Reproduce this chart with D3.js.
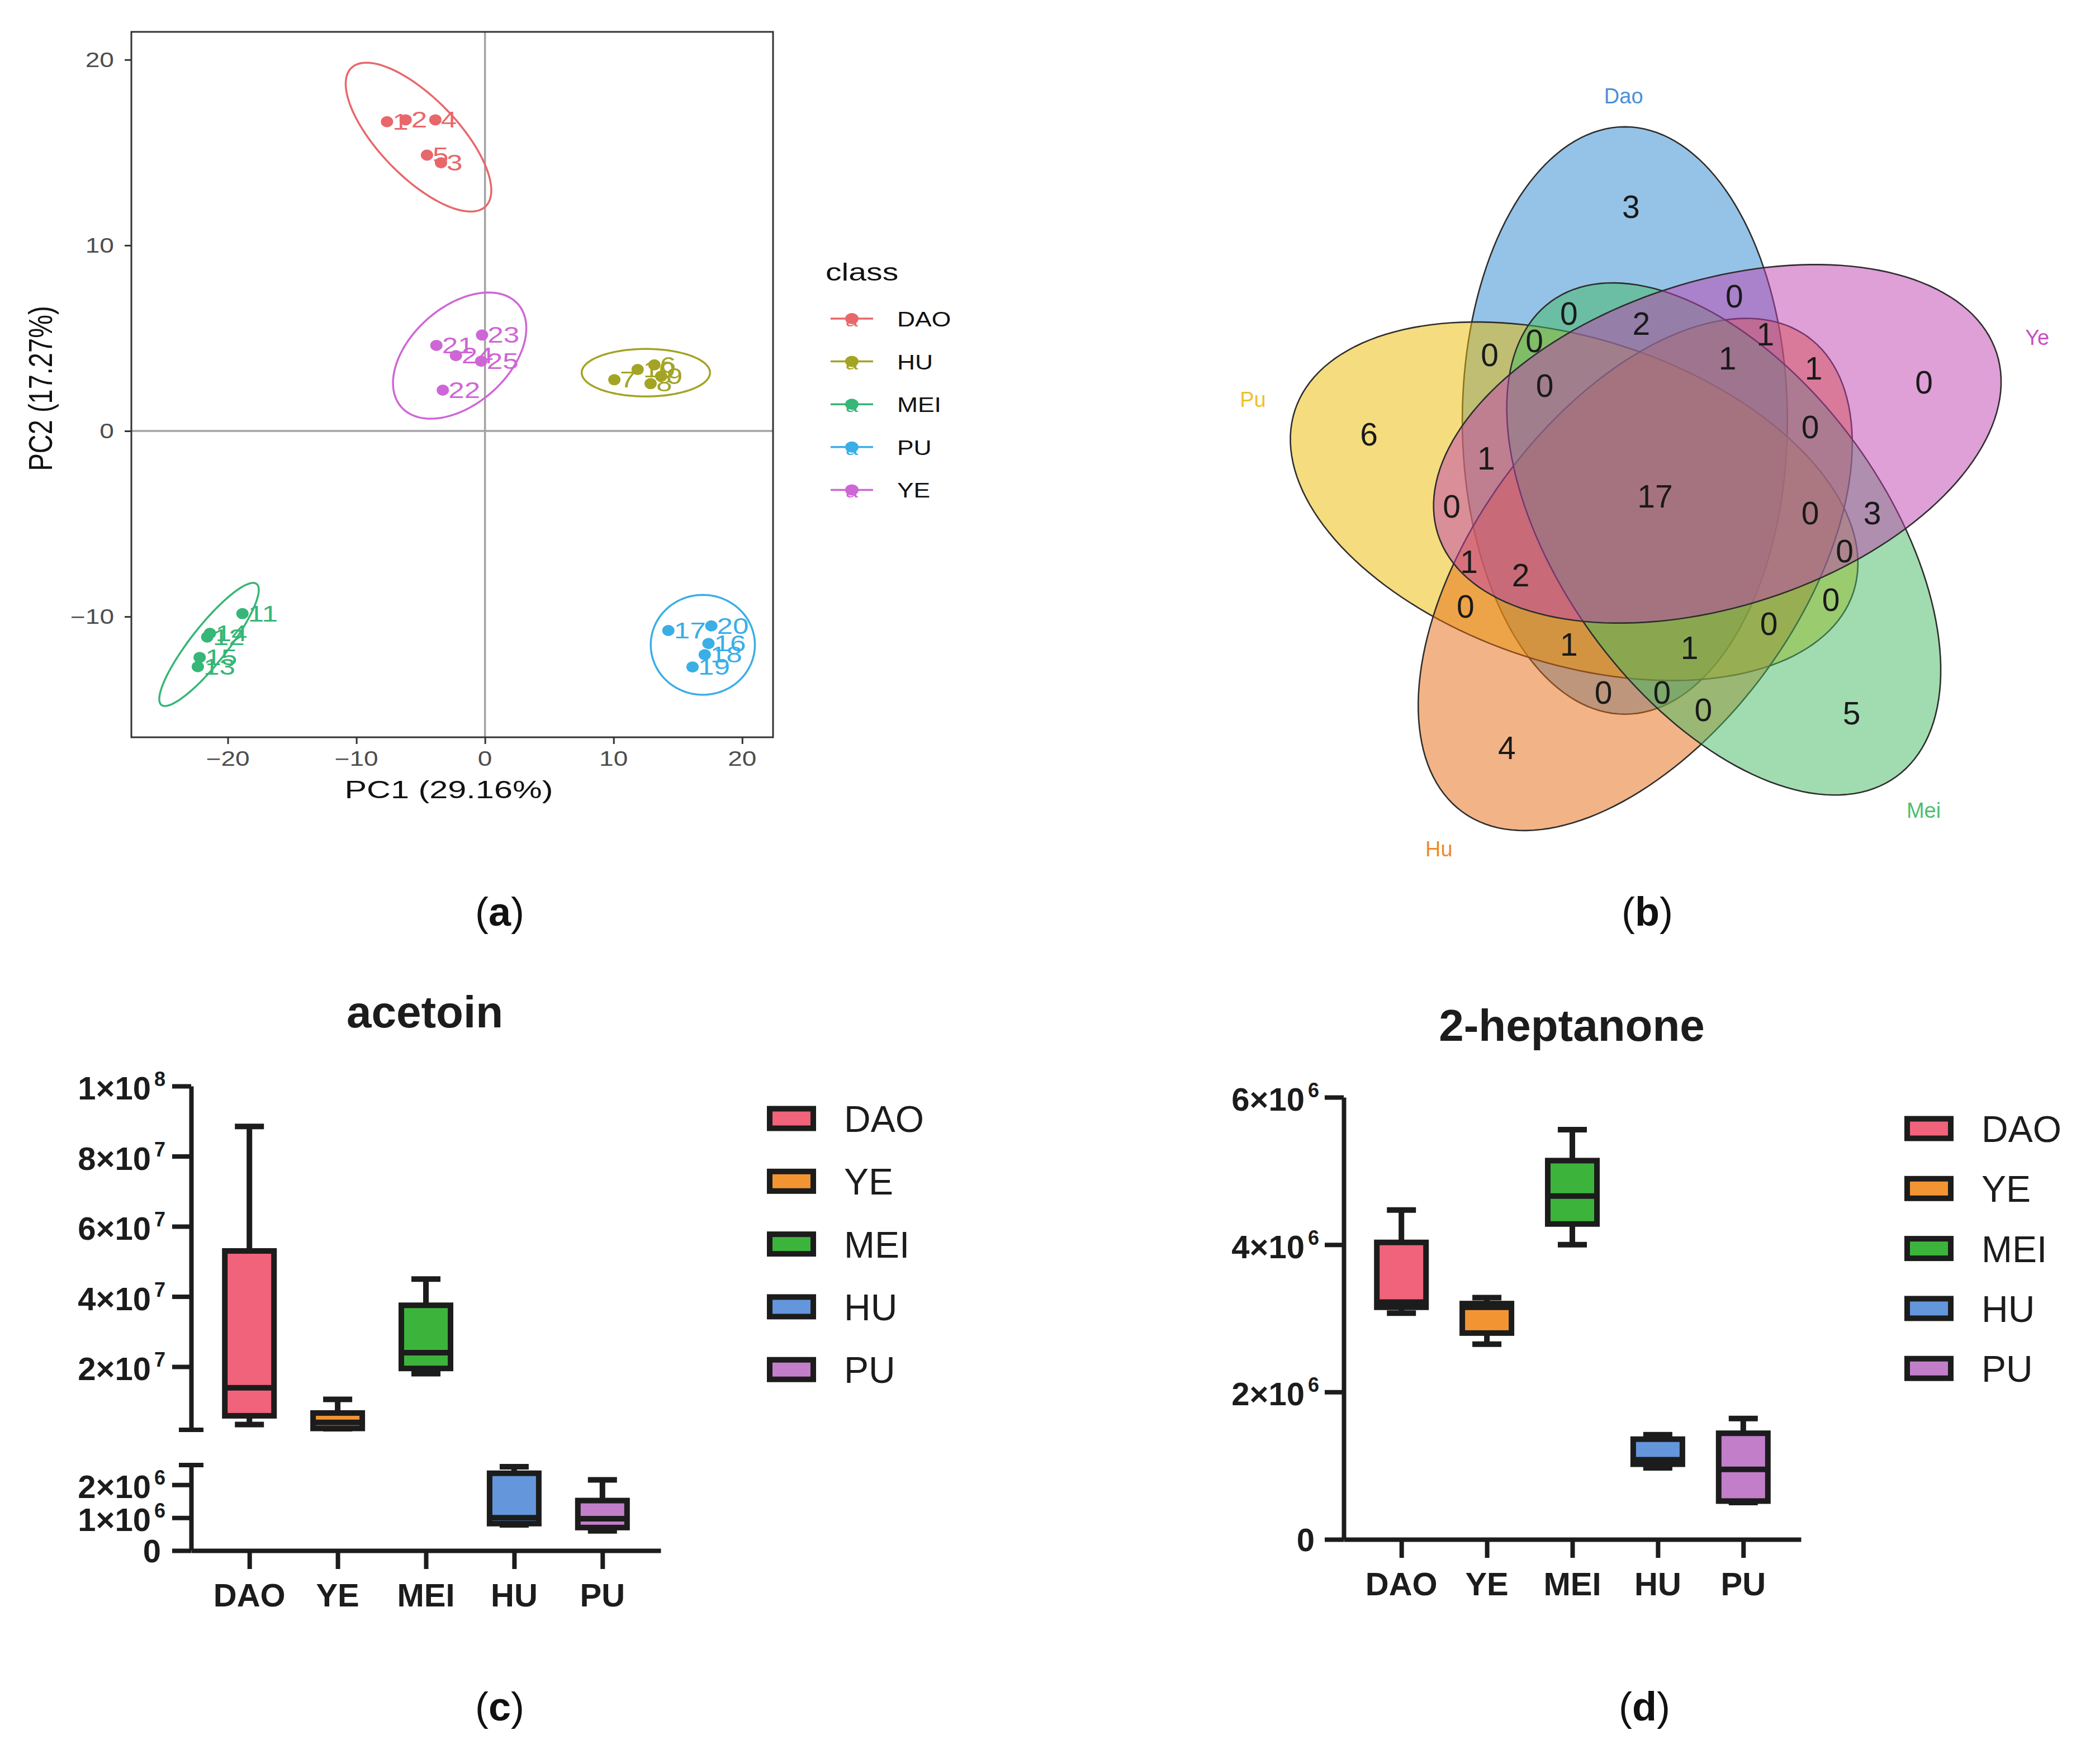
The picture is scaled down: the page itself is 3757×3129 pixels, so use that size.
<!DOCTYPE html>
<html>
<head>
<meta charset="utf-8">
<script src="https://cdn.jsdelivr.net/npm/d3@7/dist/d3.min.js"></script>
<style>
  body { margin: 0; background: #fff; }
  svg { display: block; }
  text { font-family: "Liberation Sans", Arial, sans-serif; }
</style>
</head>
<body>
<div id="figure"></div>
<script>
// ---------- data ----------

// (a) PCA scores
var pcaClasses = ["DAO", "HU", "MEI", "PU", "YE"];
var sampleIds = [1, 2, 3, 4, 5, 6, 7, 8, 9, 10, 11, 12, 13, 14, 15, 16, 17, 18, 19, 20, 21, 22, 23, 24, 25];
var sampleClass = ["DAO", "DAO", "DAO", "DAO", "DAO", "HU", "HU", "HU", "HU", "HU",
  "MEI", "MEI", "MEI", "MEI", "MEI", "PU", "PU", "PU", "PU", "PU", "YE", "YE", "YE", "YE", "YE"];
var pc1Scores = [-7.62, -6.17, -3.42, -3.86, -4.51, 13.17, 10.06, 12.88, 13.70, 11.87,
  -18.86, -21.60, -22.33, -21.39, -22.19, 17.38, 14.26, 17.09, 16.14, 17.60, -3.78, -3.28, -0.23, -2.26, -0.30];
var pc2Scores = [16.66, 16.76, 14.45, 16.76, 14.86, 3.56, 2.76, 2.55, 2.95, 3.31,
  -9.84, -11.10, -12.70, -10.90, -12.20, -11.45, -10.75, -12.05, -12.71, -10.50, 4.61, 2.20, 5.17, 4.06, 3.76];
// confidence ellipse per class: centre and two conjugate half-axes (PC units)
var ellCx = [-5.17, 12.51, -21.46, 16.94, -1.97];
var ellCy = [15.83, 3.14, -11.50, -11.52, 4.06];
var ellUx = [5.22, 4.99, 3.70, 4.05, 4.54];
var ellUy = [-3.73, 0, 3.26, 0, 2.77];
var ellVx = [2.19, 0, 1.13, 0, 2.50];
var ellVy = [1.47, 1.28, -0.61, 2.69, -1.97];
var pcXTicks = [-20, -10, 0, 10, 20];
var pcYTicks = [-10, 0, 10, 20];

// (b) Venn diagram
var vennSets = ["Dao", "Ye", "Mei", "Hu", "Pu"];
var vennRegions = ["Dao", "Ye", "Mei", "Hu", "Pu",
  "Dao,Ye", "Dao,Mei", "Dao,Hu", "Dao,Pu", "Ye,Mei", "Ye,Hu", "Ye,Pu", "Mei,Hu", "Mei,Pu", "Hu,Pu",
  "Dao,Ye,Mei", "Dao,Ye,Hu", "Dao,Ye,Pu", "Dao,Mei,Hu", "Dao,Mei,Pu", "Dao,Hu,Pu",
  "Ye,Mei,Hu", "Ye,Mei,Pu", "Ye,Hu,Pu", "Mei,Hu,Pu",
  "Dao,Ye,Mei,Hu", "Dao,Ye,Mei,Pu", "Dao,Ye,Hu,Pu", "Dao,Mei,Hu,Pu", "Ye,Mei,Hu,Pu",
  "Dao,Ye,Mei,Hu,Pu"];
var vennCounts = [3, 0, 5, 4, 6,
  0, 0, 0, 0, 3, 1, 0, 0, 0, 0,
  2, 1, 1, 0, 0, 1,
  0, 0, 1, 0,
  1, 0, 2, 1, 0,
  17];

// (c), (d) box plots
var boxCats = ["DAO", "YE", "MEI", "HU", "PU"];
var acetoinMin = [3.5e6, 2.3e6, 1.8e7, 7.8e5, 6.0e5];
var acetoinQ1  = [6.0e6, 2.4e6, 1.95e7, 8.2e5, 7.0e5];
var acetoinMed = [1.4e7, 4.1e6, 2.4e7, 1.0e6, 9.7e5];
var acetoinQ3  = [5.3e7, 6.8e6, 3.75e7, 2.35e6, 1.52e6];
var acetoinMax = [8.85e7, 1.07e7, 4.5e7, 2.55e6, 2.15e6];
var acetoinUpperTicks = [2e7, 4e7, 6e7, 8e7, 1e8];
var acetoinLowerTicks = [0, 1e6, 2e6];

var heptMin = [3.07e6, 2.65e6, 4.0e6, 9.7e5, 5.0e5];
var heptQ1  = [3.15e6, 2.8e6, 4.28e6, 1.02e6, 5.2e5];
var heptMed = [3.22e6, 3.15e6, 4.66e6, 1.08e6, 9.5e5];
var heptQ3  = [4.03e6, 3.2e6, 5.14e6, 1.36e6, 1.44e6];
var heptMax = [4.47e6, 3.28e6, 5.56e6, 1.42e6, 1.64e6];
var heptTicks = [0, 2e6, 4e6, 6e6];

// ---------- styles ----------
var pcaColors = ["#e8676a", "#a3a424", "#36b677", "#3aaee6", "#cf66d6"];
var vennFill = ["#2b88d0", "#c040b0", "#41b95f", "#e56a10", "#ebb900"];
var vennLabelColor = ["#4a90d9", "#c94fc0", "#4cbf6a", "#ef8a2a", "#efc02a"];
var boxColors = ["#f0637b", "#f39433", "#3cb43c", "#6496dc", "#c27ec9"];
var ink = "#1c1c1c";

var W = 3757, H = 3129;
var svg = d3.select("#figure").append("svg").attr("width", W).attr("height", H);
svg.append("rect").attr("width", W).attr("height", H).attr("fill", "#fff");

// text stretched horizontally (panel a was scaled wider than tall)
function wideText(g, x, y, str, size, anchor, fill, sx) {
  return g.append("text")
    .attr("transform", "translate(" + x + "," + y + ") scale(" + sx + ",1)")
    .attr("text-anchor", anchor)
    .attr("font-size", size)
    .attr("fill", fill)
    .text(str);
}
function minusFmt(v) { return v < 0 ? "\u2212" + Math.abs(v) : String(v); }

// ================= (a) PCA =================
var pa = { left: 235, right: 1383, top: 57, bottom: 1319 };
var xPC = d3.scaleLinear().domain([-27.5, 22.4]).range([pa.left, pa.right]);
var yPC = d3.scaleLinear().domain([-16.5, 21.5]).range([pa.bottom, pa.top]);
var gA = svg.append("g");

gA.append("line").attr("x1", xPC(0)).attr("x2", xPC(0)).attr("y1", pa.top).attr("y2", pa.bottom)
  .attr("stroke", "#a3a3a3").attr("stroke-width", 3.5);
gA.append("line").attr("x1", pa.left).attr("x2", pa.right).attr("y1", yPC(0)).attr("y2", yPC(0))
  .attr("stroke", "#a3a3a3").attr("stroke-width", 3.5);

// axes (tick marks from d3, labels drawn stretched)
var axBot = gA.append("g").attr("transform", "translate(0," + pa.bottom + ")")
  .call(d3.axisBottom(xPC).tickValues(pcXTicks).tickSize(12).tickFormat(""));
var axLeft = gA.append("g").attr("transform", "translate(" + pa.left + ",0)")
  .call(d3.axisLeft(yPC).tickValues(pcYTicks).tickSize(12).tickFormat(""));
[axBot, axLeft].forEach(function(ax) {
  ax.select(".domain").remove();
  ax.selectAll("line").attr("stroke", "#333").attr("stroke-width", 3);
});
pcXTicks.forEach(function(v) {
  wideText(gA, xPC(v), pa.bottom + 51, minusFmt(v), 36, "middle", "#4d4d4d", 1.28);
});
pcYTicks.forEach(function(v) {
  wideText(gA, pa.left - 31, yPC(v) + 13, minusFmt(v), 36, "end", "#4d4d4d", 1.28);
});

gA.append("rect").attr("x", pa.left).attr("y", pa.top)
  .attr("width", pa.right - pa.left).attr("height", pa.bottom - pa.top)
  .attr("fill", "none").attr("stroke", "#333").attr("stroke-width", 3);

wideText(gA, (pa.left + pa.right) / 2 - 6, 1428, "PC1 (29.16%)", 45, "middle", "#111", 1.32);
gA.append("text")
  .attr("transform", "translate(93,695) scale(1.25,1) rotate(-90)")
  .attr("text-anchor", "middle").attr("font-size", 47).attr("fill", "#111")
  .text("PC2 (17.27%)");

// ellipses
var ellLine = d3.line().curve(d3.curveLinearClosed);
pcaClasses.forEach(function(cls, k) {
  var pts = d3.range(120).map(function(i) {
    var t = 2 * Math.PI * i / 120;
    var px = ellCx[k] + ellUx[k] * Math.cos(t) + ellVx[k] * Math.sin(t);
    var py = ellCy[k] + ellUy[k] * Math.cos(t) + ellVy[k] * Math.sin(t);
    return [xPC(px), yPC(py)];
  });
  gA.append("path").attr("d", ellLine(pts)).attr("fill", "none")
    .attr("stroke", pcaColors[k]).attr("stroke-width", 3.5);
});

// points and labels
var colorOf = d3.scaleOrdinal().domain(pcaClasses).range(pcaColors);
gA.selectAll("ellipse.pt").data(sampleIds).enter().append("ellipse")
  .attr("class", "pt")
  .attr("cx", function(d, i) { return xPC(pc1Scores[i]); })
  .attr("cy", function(d, i) { return yPC(pc2Scores[i]); })
  .attr("rx", 11).attr("ry", 10)
  .attr("fill", function(d, i) { return colorOf(sampleClass[i]); });
sampleIds.forEach(function(id, i) {
  wideText(gA, xPC(pc1Scores[i]) + 10, yPC(pc2Scores[i]) + 14, String(id), 40, "start",
    colorOf(sampleClass[i]), 1.28);
});

// legend
wideText(gA, 1477, 502, "class", 44, "start", "#111", 1.3);
pcaClasses.forEach(function(cls, k) {
  var cy = 570 + k * 76.6;
  gA.append("line").attr("x1", 1486).attr("x2", 1562).attr("y1", cy).attr("y2", cy)
    .attr("stroke", pcaColors[k]).attr("stroke-width", 3.5);
  gA.append("ellipse").attr("cx", 1524).attr("cy", cy).attr("rx", 12).attr("ry", 10).attr("fill", pcaColors[k]);
  wideText(gA, 1524, cy + 14, "a", 32, "middle", pcaColors[k], 1.25);
  wideText(gA, 1605, cy + 14, cls, 37, "start", "#111", 1.2);
});

// ================= (b) Venn =================
var gB = svg.append("g");
var vCx = 2961, vCy = 887, vR = 740;
var vx = d3.scaleLinear().domain([-1, 1]).range([vCx - vR, vCx + vR]);
var vy = d3.scaleLinear().domain([-1, 1]).range([vCy + vR, vCy - vR]);
var vA = 0.71, vB = 0.393, vOx = -0.073, vOy = 0.182;

function ellPoint(k, t) {
  var lx = vOx + vB * Math.cos(t), ly = vOy + vA * Math.sin(t);
  var th = -72 * k * Math.PI / 180, c = Math.cos(th), s = Math.sin(th);
  return [c * lx - s * ly, s * lx + c * ly];
}
function inEll(k, px, py) {
  var th = 72 * k * Math.PI / 180, c = Math.cos(th), s = Math.sin(th);
  var qx = c * px - s * py, qy = s * px + c * py;
  var dx = (qx - vOx) / vB, dy = (qy - vOy) / vA;
  return dx * dx + dy * dy < 1;
}

var drawOrder = ["Dao", "Pu", "Hu", "Mei", "Ye"];
drawOrder.forEach(function(name) {
  var k = vennSets.indexOf(name);
  var pts = d3.range(160).map(function(i) {
    var p = ellPoint(k, 2 * Math.PI * i / 160);
    return [vx(p[0]), vy(p[1])];
  });
  gB.append("path").attr("d", ellLine(pts))
    .attr("fill", vennFill[k]).attr("fill-opacity", 0.5)
    .attr("stroke", "#2e2e2e").attr("stroke-width", 2.6);
});

// region label positions: deepest sampled point of each region
var boundary = [];
vennSets.forEach(function(s, k) {
  d3.range(120).forEach(function(i) { boundary.push(ellPoint(k, 2 * Math.PI * i / 120)); });
});
var deepest = {};
var nGrid = 240;
for (var i = 0; i <= nGrid; i++) {
  for (var j = 0; j <= nGrid; j++) {
    var px = -1 + 2 * i / nGrid, py = -1 + 2 * j / nGrid;
    var mask = 0;
    for (var k = 0; k < 5; k++) if (inEll(k, px, py)) mask |= (1 << k);
    if (!mask) continue;
    var dmin = Infinity;
    for (var b = 0; b < boundary.length; b++) {
      var ddx = boundary[b][0] - px, ddy = boundary[b][1] - py;
      var dd = ddx * ddx + ddy * ddy;
      if (dd < dmin) dmin = dd;
    }
    if (!deepest[mask] || dmin > deepest[mask].d) deepest[mask] = { d: dmin, x: px, y: py };
  }
}
vennRegions.forEach(function(reg, r) {
  var mask = 0;
  reg.split(",").forEach(function(s) { mask |= (1 << vennSets.indexOf(s)); });
  var spot = deepest[mask];
  if (!spot) return;
  gB.append("text").attr("x", vx(spot.x)).attr("y", vy(spot.y))
    .attr("dy", "0.36em").attr("text-anchor", "middle")
    .attr("font-size", 57).attr("fill", "#1a1a1a").text(vennCounts[r]);
});
vennSets.forEach(function(s, k) {
  var ang = (94.5 - 72 * k) * Math.PI / 180;
  var rad = k === 0 ? 0.97 : 1.0;
  gB.append("text").attr("x", vx(rad * Math.cos(ang))).attr("y", vy(rad * Math.sin(ang)))
    .attr("dy", "0.36em").attr("text-anchor", "middle")
    .attr("font-size", 38).attr("fill", vennLabelColor[k]).text(s);
});

// ================= box plot helpers =================
function sciLabel(g, v, x, y) {
  if (v === 0) {
    g.append("text").attr("x", x - 8).attr("y", y - 3).attr("text-anchor", "end")
      .attr("font-size", 58).attr("font-weight", "bold").attr("fill", ink).text("0");
    return;
  }
  var e = Math.floor(Math.log10(v) + 1e-9);
  var m = Math.round(v / Math.pow(10, e));
  var ex = g.append("text").attr("x", x).attr("y", y - 24).attr("text-anchor", "end")
    .attr("font-size", 36).attr("font-weight", "bold").attr("fill", ink).text(e);
  var ew = ex.node().getComputedTextLength();
  g.append("text").attr("x", x - ew - 6).attr("y", y).attr("text-anchor", "end")
    .attr("font-size", 58).attr("font-weight", "bold").attr("fill", ink).text(m + "\u00d710");
}

function styleAxis(ax) {
  ax.selectAll("path, line").attr("stroke", ink).attr("stroke-width", 8);
}

function drawBoxes(g, xs, scaleFor, mins, q1, med, q3, maxs) {
  var halfW = 44, capHalf = 26;
  boxCats.forEach(function(cat, i) {
    var ys = scaleFor(i), cx = xs(cat);
    g.append("line").attr("x1", cx).attr("x2", cx).attr("y1", ys(maxs[i])).attr("y2", ys(mins[i]))
      .attr("stroke", ink).attr("stroke-width", 10);
    [mins[i], maxs[i]].forEach(function(v) {
      g.append("line").attr("x1", cx - capHalf).attr("x2", cx + capHalf)
        .attr("y1", ys(v)).attr("y2", ys(v)).attr("stroke", ink).attr("stroke-width", 10);
    });
    g.append("rect").attr("x", cx - halfW).attr("y", ys(q3[i]))
      .attr("width", 2 * halfW).attr("height", ys(q1[i]) - ys(q3[i]))
      .attr("fill", boxColors[i]).attr("stroke", ink).attr("stroke-width", 10);
    g.append("line").attr("x1", cx - halfW).attr("x2", cx + halfW)
      .attr("y1", ys(med[i])).attr("y2", ys(med[i])).attr("stroke", ink).attr("stroke-width", 10);
  });
}

function drawXAxis(g, xs, y0) {
  var ax = g.append("g").attr("transform", "translate(0," + y0 + ")")
    .call(d3.axisBottom(xs).tickSize(33).tickSizeOuter(0).tickFormat(""));
  styleAxis(ax);
  boxCats.forEach(function(cat) {
    g.append("text").attr("x", xs(cat)).attr("y", y0 + 100).attr("text-anchor", "middle")
      .attr("font-size", 58).attr("font-weight", "bold").attr("fill", ink).text(cat);
  });
}

function drawLegend(g, cx, y0, step) {
  boxCats.forEach(function(cat, i) {
    var cy = y0 + i * step;
    g.append("rect").attr("x", cx - 39).attr("y", cy - 17.5).attr("width", 78).attr("height", 35)
      .attr("fill", boxColors[i]).attr("stroke", ink).attr("stroke-width", 10);
    g.append("text").attr("x", cx + 94).attr("y", cy + 24).attr("font-size", 66)
      .attr("fill", ink).text(cat);
  });
}

// ================= (c) acetoin =================
var gC = svg.append("g");
var axC = 342;
var yAcUp = d3.scaleLinear().domain([2e6, 1e8]).range([2558, 1943]);
var yAcLo = d3.scaleLinear().domain([0, 2.6e6]).range([2774, 2621]);
var xAc = d3.scalePoint().domain(boxCats).range([axC, 1182]).padding(0.66);

gC.append("text").attr("x", 760).attr("y", 1838).attr("text-anchor", "middle")
  .attr("font-size", 80).attr("font-weight", "bold").attr("fill", ink).text("acetoin");

var axUp = gC.append("g").attr("transform", "translate(" + axC + ",0)")
  .call(d3.axisLeft(yAcUp).tickValues(acetoinUpperTicks).tickSize(34).tickSizeOuter(0).tickFormat(""));
styleAxis(axUp);
var axLo = gC.append("g").attr("transform", "translate(" + axC + ",0)")
  .call(d3.axisLeft(yAcLo).tickValues(acetoinLowerTicks).tickSize(34).tickSizeOuter(0).tickFormat(""));
styleAxis(axLo);
[yAcUp.range()[0], yAcLo.range()[1]].forEach(function(yy) {
  gC.append("line").attr("x1", axC - 22).attr("x2", axC + 22).attr("y1", yy).attr("y2", yy)
    .attr("stroke", ink).attr("stroke-width", 8);
});
acetoinUpperTicks.forEach(function(v) { sciLabel(gC, v, axC - 46, yAcUp(v) + 24); });
acetoinLowerTicks.forEach(function(v) { sciLabel(gC, v, axC - 46, yAcLo(v) + 24); });
drawXAxis(gC, xAc, yAcLo.range()[0]);
drawBoxes(gC, xAc, function(i) { return acetoinMax[i] > yAcLo.domain()[1] ? yAcUp : yAcLo; },
  acetoinMin, acetoinQ1, acetoinMed, acetoinQ3, acetoinMax);
drawLegend(gC, 1416, 2001, 112.3);

// ================= (d) 2-heptanone =================
var gD = svg.append("g");
var axD = 2404;
var yHp = d3.scaleLinear().domain([0, 6e6]).range([2754, 1963]);
var xHp = d3.scalePoint().domain(boxCats).range([axD, 3222]).padding(0.675);

gD.append("text").attr("x", 2812).attr("y", 1862).attr("text-anchor", "middle")
  .attr("font-size", 80).attr("font-weight", "bold").attr("fill", ink).text("2-heptanone");
var axHp = gD.append("g").attr("transform", "translate(" + axD + ",0)")
  .call(d3.axisLeft(yHp).tickValues(heptTicks).tickSize(34).tickSizeOuter(0).tickFormat(""));
styleAxis(axHp);
heptTicks.forEach(function(v) { sciLabel(gD, v, axD - 44, yHp(v) + 24); });
drawXAxis(gD, xHp, yHp.range()[0]);
drawBoxes(gD, xHp, function() { return yHp; }, heptMin, heptQ1, heptMed, heptQ3, heptMax);
drawLegend(gD, 3451, 2019, 107.3);

// ================= panel letters =================
[["a", 894, 1656], ["b", 2947, 1656], ["c", 894, 3078], ["d", 2942, 3078]].forEach(function(p) {
  var t = svg.append("text").attr("x", p[1]).attr("y", p[2]).attr("text-anchor", "middle")
    .attr("font-family", "'Liberation Serif', 'DejaVu Serif', serif").attr("font-size", 72).attr("fill", "#111");
  t.append("tspan").text("(");
  t.append("tspan").attr("font-weight", "bold").text(p[0]);
  t.append("tspan").text(")");
});
</script>
</body>
</html>
